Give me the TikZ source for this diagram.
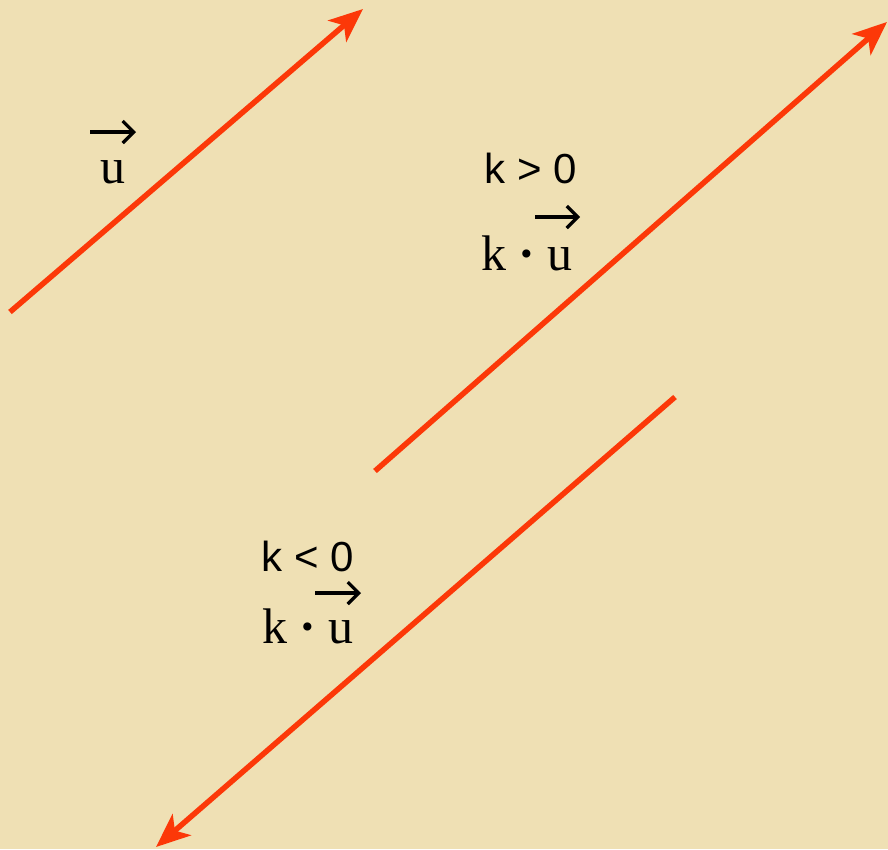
\documentclass[tikz,border=0pt]{standalone}
\usepackage{fontspec}
\setmainfont{Liberation Serif}
\newfontfamily\labelsans{Liberation Sans}
\usetikzlibrary{arrows.meta}
\definecolor{paper}{RGB}{239,224,180}
\definecolor{vecred}{RGB}{252,56,8}
\tikzset{
  vecline/.style={draw=vecred, line width=5.5pt, -{Stealth[length=34pt,width=28pt,inset=9pt]}},
  serif/.style={inner sep=0pt, font=\fontsize{50}{60}\selectfont},
  sans/.style={inner sep=0pt, font=\labelsans\fontsize{42}{50}\selectfont},
  overarrow/.style={draw=black, line width=3.2pt, -{Straight Barb[length=11pt,width=22pt,line width=3.2pt]}}
}
\newcommand{\bdot}{{\bfseries ·}}
\begin{document}
\begin{tikzpicture}[x=1pt,y=-1pt]
\fill[paper] (0,0) rectangle (888,849);
\useasboundingbox (0,0) rectangle (888,849);
% line 1
\coordinate (a1) at (10,312);
\coordinate (a2) at (363,9);
\draw[vecline] (a1) -- (a2);
% line 2
\coordinate (b1) at (375,471);
\coordinate (b2) at (887,22);
\draw[vecline] (b1) -- (b2);
% line 3
\coordinate (c1) at (675,397);
\coordinate (c2) at (156,847);
\draw[vecline] (c1) -- (c2);
% labels
\node[serif, anchor=base] (u1) at (113,183) {u};
\coordinate (u1s) at (90,132);
\coordinate (u1e) at (136,132);
\draw[overarrow] (u1s) -- (u1e);
\node[sans, anchor=base] (kpos) at (531,183) {k > 0};
\node[serif, anchor=base west] (ku1) at (481,270) {k \bdot{} u};
\coordinate (k1s) at (535,217);
\coordinate (k1e) at (580,217);
\draw[overarrow] (k1s) -- (k1e);
\node[sans, anchor=base] (kneg) at (308,571) {k < 0};
\node[serif, anchor=base west] (ku2) at (262,643) {k \bdot{} u};
\coordinate (k2s) at (315,593);
\coordinate (k2e) at (361,593);
\draw[overarrow] (k2s) -- (k2e);
\end{tikzpicture}
\end{document}
